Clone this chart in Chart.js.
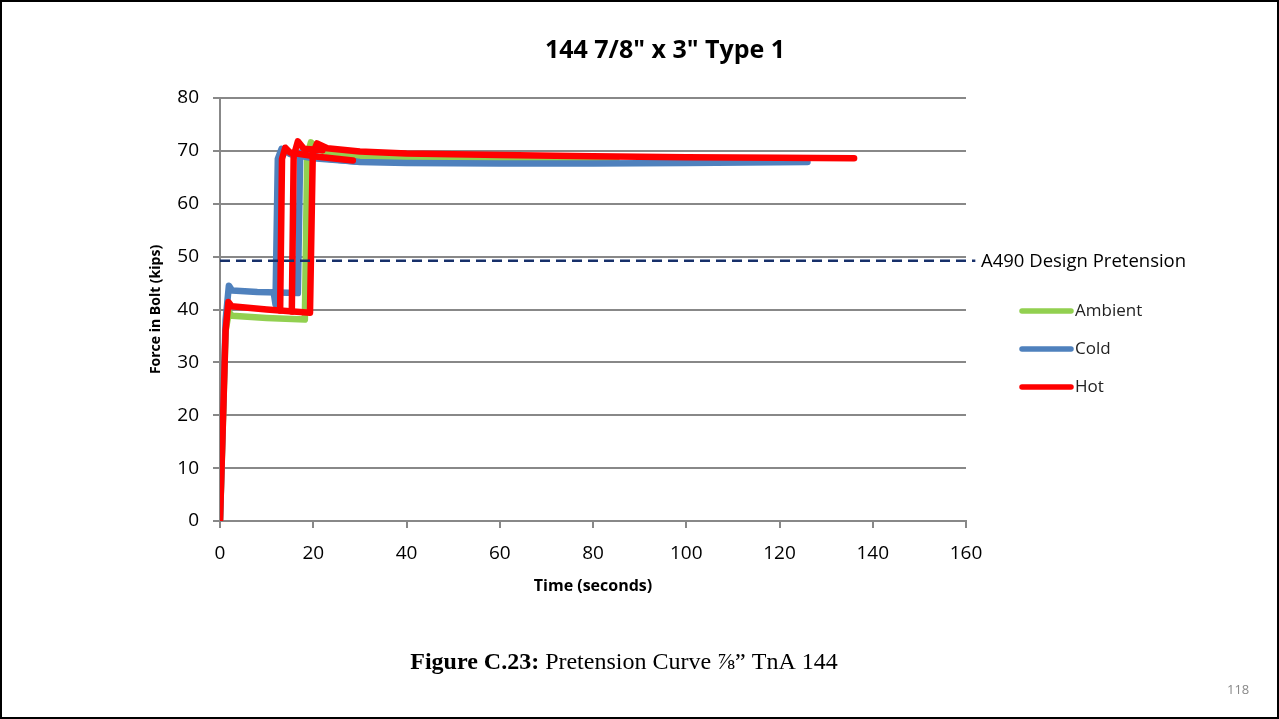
<!DOCTYPE html>
<html>
<head>
<meta charset="utf-8">
<script src="https://cdn.jsdelivr.net/npm/chart.js@4"></script>
<style>
html, body { margin: 0; padding: 0; background: #fff; }
#wrap { position: relative; width: 1279px; height: 719px; }
#frame { position: absolute; left: 0; top: 0; width: 1279px; height: 719px; box-sizing: border-box; border: 2px solid #000; pointer-events: none; }
canvas { position: absolute; left: 0; top: 0; }
</style>
</head>
<body>
<div id="wrap">
    <canvas id="pretension-chart" width="1279" height="719"></canvas>
    <div id="frame"></div>
</div>
<script>
// time (s) / force (kips)
var ambientT = [0, 1.2, 1.9, 2.6, 10, 18.2, 18.7, 19.5, 21, 25, 30, 40, 60, 85];
var ambientF = [0, 36, 39.5, 38.8, 38.4, 38.1, 69, 71.6, 70.3, 69.3, 68.8, 68.6, 68.4, 68.3];

var coldT = [0, 1.2, 1.9, 2.6, 8, 16.7, 17.2, 18, 19, 22, 30, 40, 60, 80, 100, 126];
var coldF = [0, 38, 44.5, 43.6, 43.3, 43.1, 69.5, 70.3, 69.5, 68.6, 67.9, 67.7, 67.6, 67.6, 67.7, 67.9];
var cold2T = [11.5, 11.9, 12.4, 13.2, 15, 20, 29];
var cold2F = [43.3, 41, 68.5, 70.4, 69.4, 68.6, 68.0];

var hotT = [0, 1.2, 1.8, 2.5, 10, 19.3, 19.9, 20.8, 23, 30, 40, 60, 80, 100, 120, 136];
var hotF = [0, 36, 41.4, 40.6, 40, 39.4, 69.5, 71.4, 70.5, 69.9, 69.5, 69.2, 69.0, 68.8, 68.7, 68.6];
var hot2T = [12.9, 13.3, 14, 15, 20, 25, 28.5];
var hot2F = [39.8, 68.5, 70.6, 69.7, 69.0, 68.5, 68.2];
var hot3T = [15.4, 15.8, 16.7, 18, 22];
var hot3F = [39.6, 69, 71.8, 70.4, 70.1];

var designT = [0, 162];
var designF = [49.2, 49.2];

var xTicks = [0, 20, 40, 60, 80, 100, 120, 140, 160];
var yTicks = [0, 10, 20, 30, 40, 50, 60, 70, 80];

var GREEN = "#92d050", BLUE = "#4f81bd", RED = "#ff0000";

window.addEventListener("load", init);

function pts(t, f) {
    return t.map(function (v, i) { return { x: v, y: f[i] }; });
}

function curve(label, t, f, color, order, inLegend) {
    return {
        label: label,
        data: pts(t, f),
        borderColor: color,
        backgroundColor: color,
        borderWidth: 6.5,
        borderCapStyle: "round",
        borderJoinStyle: "round",
        pointRadius: 0,
        showLine: true,
        tension: 0,
        order: order,
        inLegend: inLegend
    };
}

var textPlugin = {
    id: "slideText",
    afterDraw: function (chart) {
        var ctx = chart.ctx;
        ctx.save();
        ctx.fillStyle = "#000";
        ctx.textBaseline = "middle";

        ctx.font = "bold 25px 'Open Sans'";
        ctx.textAlign = "center";
        ctx.fillText("144 7/8\" x 3\" Type 1", 665, 51);

        ctx.textAlign = "left";
        ctx.font = "18.5px 'Open Sans'";
        ctx.fillText("A490 Design Pretension", 981, 262);

        ctx.font = "17px 'Open Sans'";
        var ly = 311;
        chart.data.datasets.forEach(function (ds) {
            if (!ds.inLegend) return;
            ctx.strokeStyle = ds.borderColor;
            ctx.lineWidth = 5.5;
            ctx.lineCap = "round";
            ctx.beginPath();
            ctx.moveTo(1022, ly);
            ctx.lineTo(1071, ly);
            ctx.stroke();
            ctx.fillStyle = "#222";
            ctx.fillText(ds.label, 1075, ly);
            ly += 38;
        });

        // caption
        ctx.fillStyle = "#000";
        ctx.textAlign = "left";
        ctx.font = "bold 24px 'Liberation Serif'";
        var a = "Figure C.23:";
        var w1 = ctx.measureText(a + " ").width;
        ctx.font = "24px 'Liberation Serif'";
        var b = "Pretension Curve \u215E\u201D TnA 144";
        var w2 = ctx.measureText(b).width;
        var x0 = 624 - (w1 + w2) / 2;
        ctx.font = "bold 24px 'Liberation Serif'";
        ctx.fillText(a, x0, 663);
        ctx.font = "24px 'Liberation Serif'";
        ctx.fillText(b, x0 + w1, 663);

        ctx.fillStyle = "#888";
        ctx.font = "13px 'Open Sans'";
        ctx.fillText("118", 1227, 690);
        ctx.restore();
    }
};

function init() {
    Chart.defaults.font.family = "'Open Sans'";
    Chart.defaults.color = "#000";

    var datasets = [
        curve("Hot", hotT, hotF, RED, 1, true),
        curve("Hot", hot2T, hot2F, RED, 1, false),
        curve("Hot", hot3T, hot3F, RED, 1, false),
        curve("Cold", coldT, coldF, BLUE, 2, true),
        curve("Cold", cold2T, cold2F, BLUE, 2, false),
        curve("Ambient", ambientT, ambientF, GREEN, 3, true)
    ];
    datasets.sort(function (p, q) { return q.order - p.order; });
    datasets.unshift({
        label: "A490 Design Pretension",
        data: pts(designT, designF),
        borderColor: "#17306a",
        borderWidth: 2.5,
        borderDash: [10, 6],
        pointRadius: 0,
        showLine: true,
        clip: false,
        order: 0,
        inLegend: false
    });

    var config = {
        type: "scatter",
        data: { datasets: datasets },
        options: {
            responsive: false,
            animation: false,
            layout: { padding: { left: 144, top: 98, right: 313, bottom: 119 } },
            plugins: {
                legend: { display: false },
                title: { display: false },
                tooltip: { enabled: false }
            },
            scales: {
                x: {
                    type: "linear",
                    min: 0,
                    max: 160,
                    afterFit: function (s) { s.height = 79; },
                    afterBuildTicks: function (s) { s.ticks = xTicks.map(function (v) { return { value: v }; }); },
                    grid: { drawOnChartArea: false, drawTicks: true, tickLength: 7, color: "#888", lineWidth: 2 },
                    border: { color: "#888", width: 2 },
                    ticks: { padding: 14, font: { size: 19 }, color: "#000" },
                    title: { display: true, text: "Time (seconds)", font: { size: 16, weight: "bold" }, color: "#000" }
                },
                y: {
                    min: 0,
                    max: 80,
                    afterFit: function (s) { s.width = 76; },
                    afterBuildTicks: function (s) { s.ticks = yTicks.map(function (v) { return { value: v }; }); },
                    grid: { drawTicks: true, tickLength: 7, color: "#888", lineWidth: 2 },
                    border: { color: "#888", width: 2 },
                    ticks: { padding: 14, font: { size: 19 }, color: "#000" },
                    title: { display: true, text: "Force in Bolt (kips)", font: { size: 14, weight: "bold" }, color: "#000" }
                }
            }
        },
        plugins: [textPlugin]
    };
    var pretensionChart = new Chart(document.getElementById("pretension-chart"), config);
}
</script>
</body>
</html>
